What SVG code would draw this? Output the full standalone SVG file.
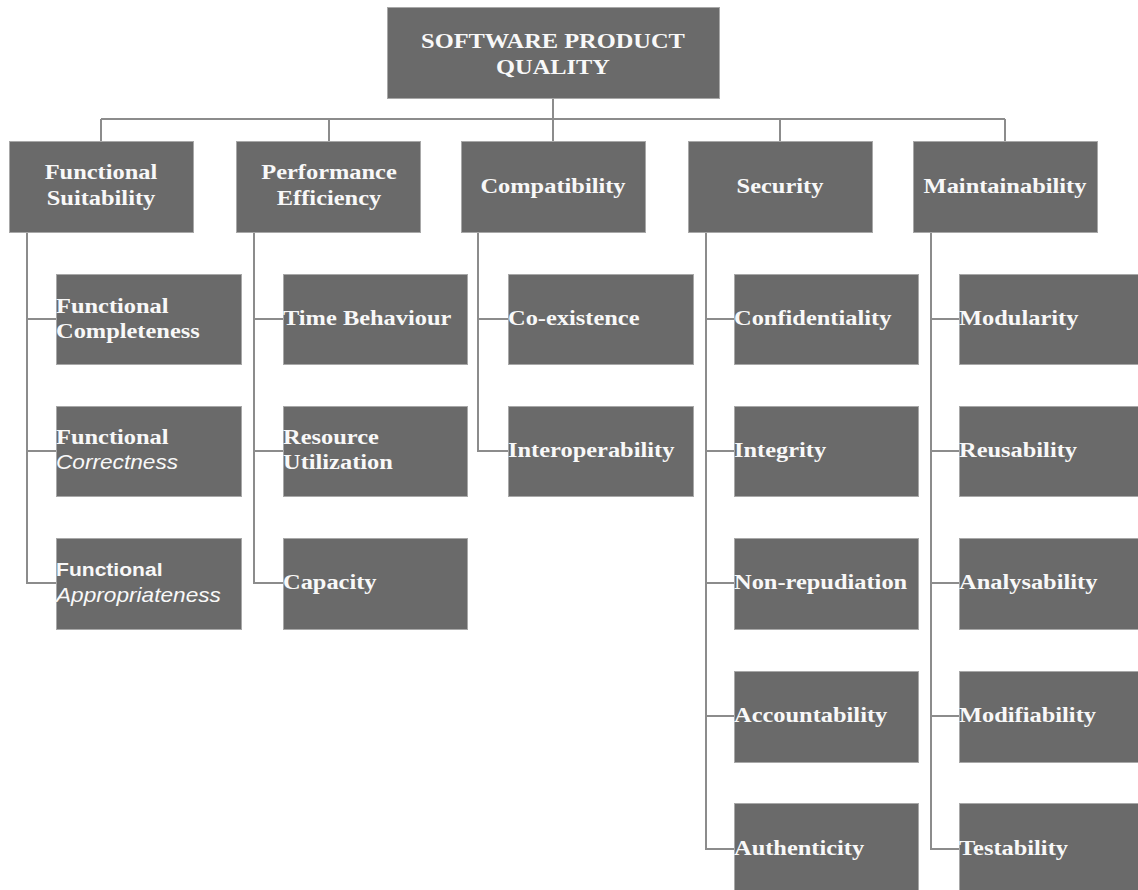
<svg xmlns="http://www.w3.org/2000/svg" width="1138" height="890" viewBox="0 0 1138 890">
<style>
.box{fill:#6a6a6a;stroke:#a8a8a8;stroke-width:1}
.t{font-family:"Liberation Serif","Times New Roman",serif;font-weight:bold;font-size:22px;fill:#f8f8f8}
.c{text-anchor:middle}
.si{font-family:"Liberation Sans",Arial,sans-serif;font-style:italic;font-weight:normal;font-size:20.4px}
.sb{font-family:"Liberation Sans",Arial,sans-serif;font-weight:bold;font-size:19px}
.conn{stroke:#8c8c8c;stroke-width:2;fill:none}
</style>
<rect width="1138" height="890" fill="#ffffff"/>
<g id="connectors" class="conn">
<path d="M101,119 H1005 M101,119 V142 M329,119 V142 M780,119 V142 M1005,119 V142 M553,99 V142"/>
<path d="M27,232 V583 H56 M27,319 H56 M27,451 H56"/>
<path d="M254,232 V583 H283 M254,319 H283 M254,451 H283"/>
<path d="M478,232 V451 H508 M478,319 H508"/>
<path d="M706,232 V849 H734 M706,319 H734 M706,451 H734 M706,583 H734 M706,716 H734"/>
<path d="M931,232 V849 H959 M931,319 H959 M931,451 H959 M931,583 H959 M931,716 H959"/>
</g>
<g id="root">
<rect class="box" x="387.5" y="7.5" width="332" height="91"/>
<text class="t c" transform="translate(553,48) scale(1.11,1)"><tspan x="0">SOFTWARE PRODUCT</tspan><tspan x="0" dy="26">QUALITY</tspan></text>
</g>
<g id="functional-suitability">
<rect class="box" x="9.5" y="141.5" width="184" height="91"/>
<text class="t c" transform="translate(101,179) scale(1.11,1)"><tspan x="0">Functional</tspan><tspan x="0" dy="26">Suitability</tspan></text>
</g>
<g id="performance-efficiency">
<rect class="box" x="236.5" y="141.5" width="184" height="91"/>
<text class="t c" transform="translate(329,179) scale(1.11,1)"><tspan x="0">Performance</tspan><tspan x="0" dy="26">Efficiency</tspan></text>
</g>
<g id="compatibility">
<rect class="box" x="461.5" y="141.5" width="184" height="91"/>
<text class="t c" transform="translate(553,193) scale(1.11,1)">Compatibility</text>
</g>
<g id="security">
<rect class="box" x="688.5" y="141.5" width="184" height="91"/>
<text class="t c" transform="translate(780,193) scale(1.11,1)">Security</text>
</g>
<g id="maintainability">
<rect class="box" x="913.5" y="141.5" width="184" height="91"/>
<text class="t c" transform="translate(1005,193) scale(1.11,1)">Maintainability</text>
</g>
<g id="functional-completeness">
<rect class="box" x="56.5" y="274.5" width="185" height="90"/>
<text class="t" transform="translate(56,313) scale(1.11,1)"><tspan x="0">Functional</tspan><tspan x="0" dy="25">Completeness</tspan></text>
</g>
<g id="functional-correctness">
<rect class="box" x="56.5" y="406.5" width="185" height="90"/>
<text class="t" transform="translate(56,444) scale(1.11,1)"><tspan x="0">Functional</tspan><tspan x="0" dy="25" class="si">Correctness</tspan></text>
</g>
<g id="functional-appropriateness">
<rect class="box" x="56.5" y="538.5" width="185" height="91"/>
<text class="t" transform="translate(56,576) scale(1.11,1)"><tspan x="0" class="sb">Functional</tspan><tspan x="0" dy="26" class="si">Appropriateness</tspan></text>
</g>
<g id="time-behaviour">
<rect class="box" x="283.5" y="274.5" width="184" height="90"/>
<text class="t" transform="translate(283,325) scale(1.11,1)">Time Behaviour</text>
</g>
<g id="resource-utilization">
<rect class="box" x="283.5" y="406.5" width="184" height="90"/>
<text class="t" transform="translate(283,444) scale(1.11,1)"><tspan x="0">Resource</tspan><tspan x="0" dy="25">Utilization</tspan></text>
</g>
<g id="capacity">
<rect class="box" x="283.5" y="538.5" width="184" height="91"/>
<text class="t" transform="translate(283,589) scale(1.11,1)">Capacity</text>
</g>
<g id="co-existence">
<rect class="box" x="508.5" y="274.5" width="185" height="90"/>
<text class="t" transform="translate(508,325) scale(1.11,1)">Co-existence</text>
</g>
<g id="interoperability">
<rect class="box" x="508.5" y="406.5" width="185" height="90"/>
<text class="t" transform="translate(508,457) scale(1.11,1)">Interoperability</text>
</g>
<g id="confidentiality">
<rect class="box" x="734.5" y="274.5" width="184" height="90"/>
<text class="t" transform="translate(734,325) scale(1.11,1)">Confidentiality</text>
</g>
<g id="integrity">
<rect class="box" x="734.5" y="406.5" width="184" height="90"/>
<text class="t" transform="translate(734,457) scale(1.11,1)">Integrity</text>
</g>
<g id="non-repudiation">
<rect class="box" x="734.5" y="538.5" width="184" height="91"/>
<text class="t" transform="translate(734,589) scale(1.11,1)">Non-repudiation</text>
</g>
<g id="accountability">
<rect class="box" x="734.5" y="671.5" width="184" height="91"/>
<text class="t" transform="translate(734,722) scale(1.11,1)">Accountability</text>
</g>
<g id="authenticity">
<rect class="box" x="734.5" y="803.5" width="184" height="91"/>
<text class="t" transform="translate(734,855) scale(1.11,1)">Authenticity</text>
</g>
<g id="modularity">
<rect class="box" x="959.5" y="274.5" width="186" height="90"/>
<text class="t" transform="translate(959,325) scale(1.11,1)">Modularity</text>
</g>
<g id="reusability">
<rect class="box" x="959.5" y="406.5" width="186" height="90"/>
<text class="t" transform="translate(959,457) scale(1.11,1)">Reusability</text>
</g>
<g id="analysability">
<rect class="box" x="959.5" y="538.5" width="186" height="91"/>
<text class="t" transform="translate(959,589) scale(1.11,1)">Analysability</text>
</g>
<g id="modifiability">
<rect class="box" x="959.5" y="671.5" width="186" height="91"/>
<text class="t" transform="translate(959,722) scale(1.11,1)">Modifiability</text>
</g>
<g id="testability">
<rect class="box" x="959.5" y="803.5" width="186" height="91"/>
<text class="t" transform="translate(959,855) scale(1.11,1)">Testability</text>
</g>
</svg>
